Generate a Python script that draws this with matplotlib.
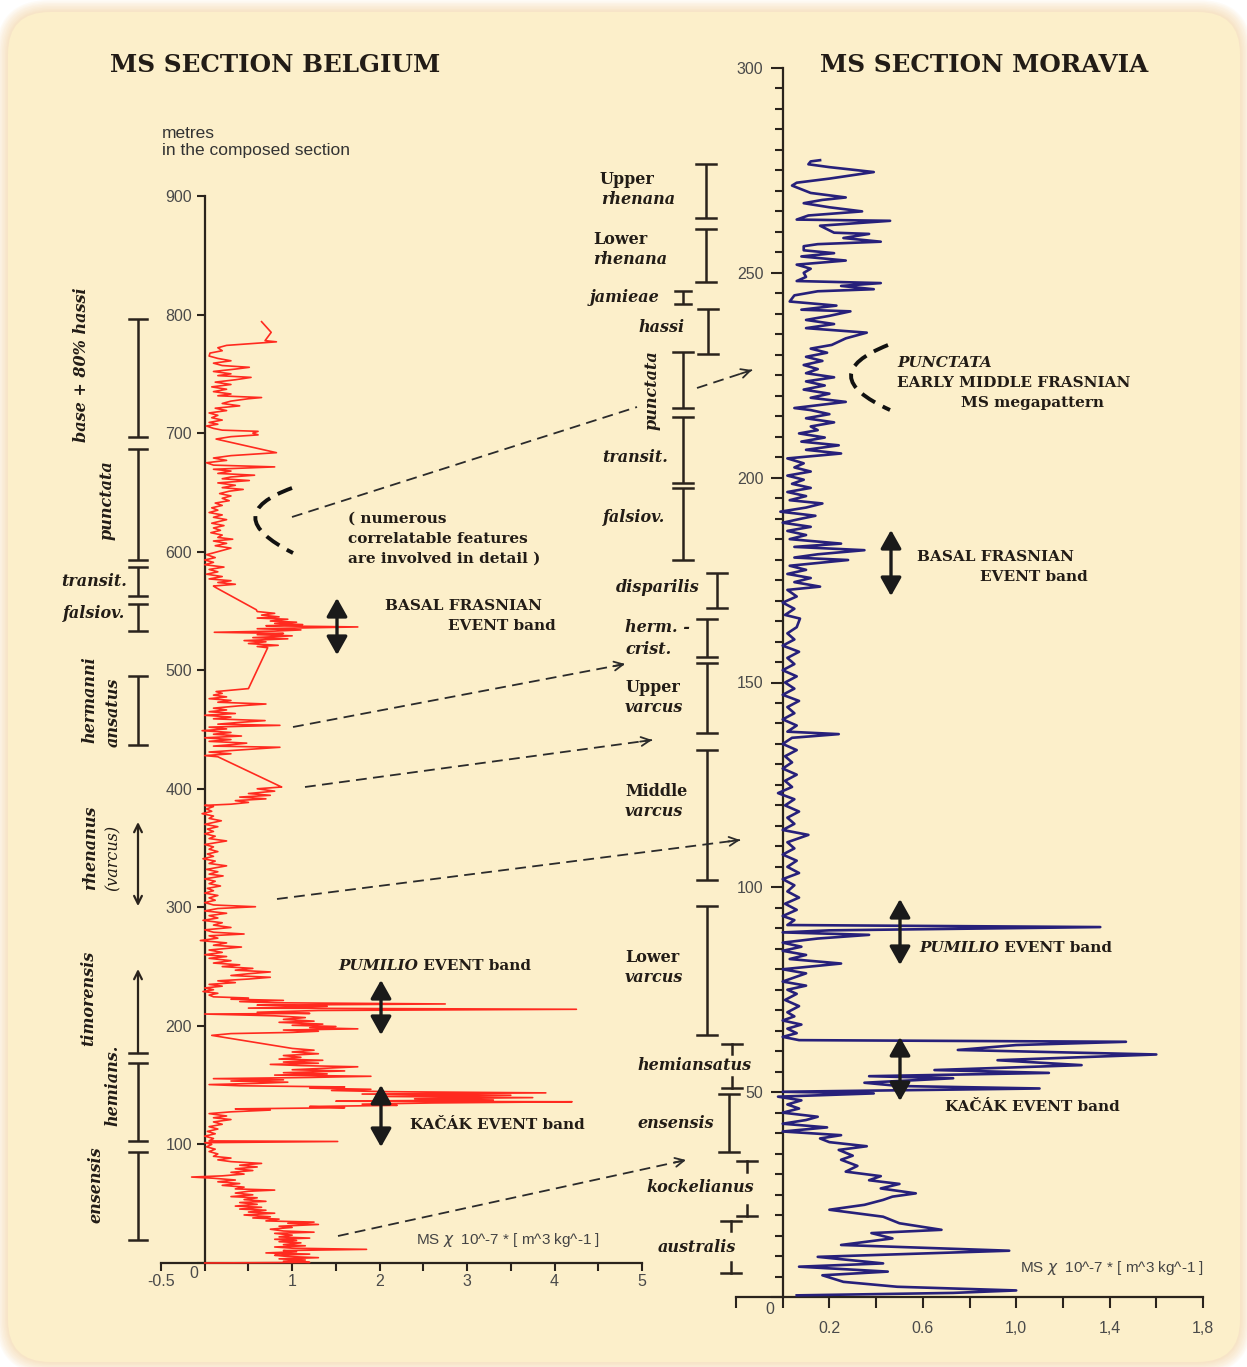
import numpy as np
import matplotlib.pyplot as plt
import matplotlib.transforms as mtransforms
from matplotlib.patches import FancyBboxPatch, FancyArrowPatch, PathPatch
from matplotlib.path import Path

# ---------------- data: Belgium (depth in m, MS value) ----------------
red_depth = [0, 0.5, 1.5, 2.5, 3.5, 4.5, 5.5, 6.5, 7.5, 8.5, 9.5, 10.5, 11.5, 12.5, 13.5, 14.5, 15.5, 17, 18, 19,
             20, 21, 22, 23.5, 25, 26, 27, 28.5, 30, 31, 32.5, 33.5, 34.5, 35.5, 37, 38, 39, 40.5, 42, 43,
             44.5, 45.5, 47, 48, 49.5, 51, 52, 53.5, 55, 56, 57.5, 59, 60.5, 61.5, 62.5, 64, 65.5, 67, 68.5, 70,
             71.5, 72.5, 73.5, 75, 76.5, 78, 79.5, 81, 82.5, 84, 85.5, 87, 88.5, 90, 92, 94, 96, 98, 100, 101.5,
             102.5, 103, 105, 107, 109, 111, 113, 115, 117, 119, 121, 122.5, 124, 126, 127.5, 129, 130, 131, 132, 133,
             134, 135, 136, 136.5, 137.5, 138.5, 139.5, 140.5, 141.5, 142.5, 143.5, 144.5, 145.5, 146.5, 147.5, 148.5, 149.5, 150.5, 151.5, 152.5,
             153.5, 154.5, 155.5, 156.5, 157.5, 158.5, 159.5, 160.5, 162, 163, 164.5, 165.5, 166.5, 167.5, 168.5, 169.5, 171, 172, 173.5, 175,
             176.5, 178, 179.5, 181, 192, 193.5, 194.5, 195.5, 196.5, 197.5, 198.5, 199.5, 200.5, 201.5, 203, 204, 205.5, 207, 208.5, 210,
             210.5, 211.5, 213, 214, 215, 216.5, 217.5, 218.5, 219.5, 220.5, 221.5, 222.5, 223.5, 224.5, 226, 227.5, 229, 230.5, 232, 233.5,
             235, 236.5, 238, 239.5, 241, 242.5, 244, 245.5, 247, 248.5, 250, 251.5, 253, 255, 257, 258.5, 260, 262, 264, 266.5,
             268, 270, 272, 274, 276, 277.5, 279, 281, 283, 285, 287, 289, 291, 293, 295, 297, 299, 300.5, 302, 304,
             306, 308, 310, 312, 314, 316, 318, 320, 322, 324, 326.5, 328, 330, 332, 335, 337, 339, 341, 343, 345,
             347, 349, 351, 353, 356, 358, 360, 362, 364, 366, 368, 370, 373, 375, 377, 379, 381, 383, 385, 386,
             387, 388.5, 390, 391.5, 393, 394.5, 396, 398, 400, 401.5, 402.5, 427, 428, 429.5, 431, 433, 435, 436, 437.5, 438.5,
             440, 441.5, 443, 444.5, 446, 447.5, 449, 450.5, 452, 453.5, 454.5, 456, 457.5, 459, 460.5, 462, 463.5, 465, 466.5, 468,
             470, 471.5, 473, 474.5, 476, 477.5, 479, 480.5, 482, 484.5, 519, 520, 521, 522.5, 524, 525, 526.5, 527.5, 529, 530,
             531, 532, 533, 534, 535, 536.5, 537.5, 538.5, 539.5, 540.5, 541.5, 543, 544, 545, 546.5, 548, 549.5, 551, 570, 571,
             572.5, 574, 575.5, 577, 579, 581, 583, 585, 587, 589, 591, 593, 595, 597.5, 599, 601, 603, 605, 607, 609,
             610.5, 612, 614, 616, 618, 620, 622, 624, 627, 629, 631, 633, 635, 637, 639, 641, 643, 645, 647, 649,
             651, 652.5, 654, 656, 658, 660, 661.5, 663, 664.5, 666, 668, 669.5, 671.5, 673, 675, 677, 679, 681, 683.5, 695,
             697, 698.5, 700, 701.5, 702.5, 704, 706, 707.5, 709, 711, 713, 715, 717, 719, 721, 723, 725, 727, 729, 730,
             731.5, 733, 735, 737, 739, 741, 743, 745, 747, 748.5, 750, 752, 754, 755.5, 757, 759, 761, 763, 765, 767.5,
             769.5, 772, 774, 777, 778, 785, 794]
red_ms = [0.0, 1.2, 0.9, 1.15, 0.85, 1.3, 0.95, 0.8, 1.2, 0.7, 1.05, 0.9, 1.85, 1.0, 0.8, 1.15, 0.9, 1.1, 0.85, 1.05,
          0.8, 1.2, 0.85, 1.0, 0.8, 1.25, 0.9, 0.75, 1.0, 0.85, 1.3, 0.95, 1.25, 0.7, 0.85, 0.55, 0.75, 0.45, 0.8, 0.5,
          0.7, 0.4, 0.65, 0.35, 0.6, 0.4, 0.7, 0.45, 0.6, 0.3, 0.55, 0.35, 0.5, 0.8, 0.35, 0.45, 0.2, 0.4, 0.15, 0.35,
          0.1, -0.15, 0.2, 0.45, 0.3, 0.55, 0.35, 0.6, 0.4, 0.65, 0.3, 0.15, 0.3, 0.1, 0.15, 0.05, 0.12, 0.02, 0.08, 0.0,
          1.52, 0.05, 0.1, 0.0, 0.12, 0.03, 0.15, 0.05, 0.2, 0.1, 0.3, 0.1, 0.25, 0.05, 0.3, 0.75, 0.35, 1.6, 1.2, 2.2,
          1.8, 2.6, 4.2, 1.5, 3.3, 2.4, 3.75, 2.0, 3.5, 1.8, 3.9, 2.1, 1.45, 1.9, 1.2, 1.6, 0.4, 0.05, 0.6, 0.95,
          0.3, 0.9, 0.1, 1.2, 1.9, 0.8, 1.4, 0.9, 1.6, 1.0, 1.45, 1.75, 1.1, 0.75, 1.3, 0.9, 1.35, 0.85, 1.1, 0.9,
          1.3, 1.0, 1.25, 1.0, 0.08, 0.3, 1.0, 1.3, 0.9, 1.75, 1.2, 1.5, 1.0, 1.35, 0.85, 1.25, 0.9, 1.15, 0.8, 0.0,
          1.2, 0.6, 1.3, 4.25, 0.5, 1.4, 0.6, 2.75, 0.8, 0.4, 0.9, 0.3, 0.5, 0.1, 0.05, 0.15, -0.02, 0.1, 0.0, 0.2,
          0.05, 0.35, 0.15, 0.5, 0.75, 0.3, 0.5, 0.75, 0.35, 0.55, 0.2, 0.4, 0.1, 0.3, 0.05, 0.25, 0.0, 0.2, 0.05, 0.42,
          0.1, 0.25, -0.05, 0.15, 0.05, 0.45, 0.1, 0.0, 0.3, 0.1, 0.2, -0.02, 0.15, 0.05, 0.25, 0.0, 0.15, 0.58, 0.1, 0.0,
          0.12, 0.05, 0.15, 0.0, 0.1, 0.03, 0.18, 0.05, 0.12, 0.0, 0.21, 0.05, 0.15, 0.02, 0.25, 0.05, 0.12, -0.02, 0.1, 0.03,
          0.15, 0.05, 0.1, 0.0, 0.25, 0.05, 0.12, 0.0, 0.1, 0.03, 0.15, 0.0, 0.19, 0.05, 0.1, -0.03, 0.08, 0.02, 0.1, 0.0,
          0.3, 0.5, 0.35, 0.7, 0.4, 0.75, 0.5, 0.8, 0.6, 0.88, 0.85, 0.15, 0.0, 0.3, 0.05, 0.45, 0.86, 0.1, 0.35, 0.48,
          0.05, 0.3, 0.0, 0.42, 0.1, 0.3, -0.03, 0.25, 0.05, 0.86, 0.15, 0.4, 0.69, 0.1, 0.3, 0.0, 0.35, 0.05, 0.25, 0.1,
          0.4, 0.7, 0.15, 0.3, 0.05, 0.25, 0.1, 0.2, 0.13, 0.5, 0.72, 0.6, 0.84, 0.5, 0.7, 0.45, 0.95, 0.55, 1.0, 0.6,
          0.9, 0.11, 0.8, 1.1, 0.6, 1.75, 0.7, 1.12, 0.8, 1.05, 0.75, 0.95, 0.6, 0.85, 0.65, 0.8, 0.6, 0.59, 0.12, 0.1,
          0.35, 0.15, 0.3, 0.05, 0.2, 0.02, 0.15, 0.05, 0.22, 0.0, 0.1, 0.0, 0.12, 0.02, 0.1, 0.2, 0.3, 0.12, 0.25, 0.1,
          0.32, 0.15, 0.2, 0.07, 0.18, 0.1, 0.22, 0.08, 0.25, 0.1, 0.2, 0.05, 0.15, 0.08, 0.2, 0.12, 0.28, 0.2, 0.3, 0.17,
          0.28, 0.44, 0.2, 0.35, 0.15, 0.51, 0.2, 0.3, 0.57, 0.15, 0.3, 0.1, 0.8, 0.1, 0.02, 0.25, 0.1, 0.3, 0.82, 0.13,
          0.3, 0.61, 0.55, 0.61, 0.2, 0.1, 0.02, 0.15, 0.05, 0.2, 0.08, 0.15, 0.05, 0.25, 0.12, 0.4, 0.2, 0.3, 0.5, 0.65,
          0.15, 0.3, 0.1, 0.25, 0.08, 0.3, 0.12, 0.35, 0.53, 0.15, 0.3, 0.1, 0.35, 0.51, 0.2, 0.1, 0.3, 0.15, 0.05, 0.06,
          0.2, 0.15, 0.25, 0.82, 0.69, 0.76, 0.65]

# ---------------- data: Moravia ----------------
blue_depth = [0.4, 1.0, 1.6, 2.5, 3.7, 5.3, 6.2, 7.4, 8.2, 9.8, 11.3, 12.7, 14.3, 15.6, 16.4, 18, 19.6, 21.3, 22.5, 23.7,
              24.5, 25.3, 26.5, 27.6, 28.5, 29.5, 30.6, 32, 33.5, 34.5, 35.9, 36.8, 37.8, 38.7, 39.5, 40.4, 41.4, 42.3, 43.2, 44,
              45, 46, 47, 48, 48.9, 49.7, 50.1, 50.9, 51.5, 52.3, 53.4, 53.9, 54.7, 55.4, 56.6, 57.8, 59.2, 60.3, 61.5, 62.3,
              62.7, 63.5, 64.4, 65.5, 66.5, 67.5, 68.5, 69.5, 71, 72.5, 74, 75, 76, 77, 78, 79, 80, 81.4, 82.5, 83.5,
              84.5, 85.5, 86.5, 87.5, 88.4, 89, 89.5, 90.3, 90.8, 92, 93, 94.5, 96, 97.5, 99, 100.5, 102, 103.5, 105, 106.5,
              108, 109.5, 111, 112.8, 114, 115.5, 117, 118.5, 120, 121.5, 123, 124.5, 126, 127.5, 129, 130.5, 132, 133.5, 135, 136.5,
              137.4, 138, 139.5, 141, 142.5, 144, 145.5, 147, 148.5, 150, 151.5, 153, 154.5, 156, 157.5, 159, 160.5, 162, 163.5, 165.6,
              166.5, 168, 169.5, 171, 172.6, 173.4, 174.5, 175.5, 176.5, 177.5, 178.5, 179.9, 180.5, 181.3, 182.3, 183.1, 183.9, 185, 186, 187,
              188, 189, 190, 190.7, 191.7, 192.7, 193.7, 194.5, 195.5, 196.5, 197.5, 198.5, 199.5, 200.5, 201.5, 202.5, 203.5, 204.7, 205.9, 206.8,
              207.9, 208.8, 209.8, 210.8, 211.6, 212.5, 213.5, 214.5, 215.5, 216.5, 217, 218.5, 219.5, 220.5, 221.5, 222.5, 223.5, 224.5, 225.5, 226.5,
              227.5, 228.5, 229.5, 230.5, 231.5, 232.4, 234, 235.4, 236.5, 237.5, 238.5, 239.5, 240.6, 241, 242, 243, 244.5, 245.5, 246, 246.8,
              247.5, 248, 249, 250, 251, 252, 253, 254, 254.8, 255.5, 256.5, 257, 257.6, 258.5, 259.5, 259.8, 261.5, 262.7, 263, 264,
              265, 266, 267, 267.8, 268.4, 269.5, 271.3, 272, 273, 274.6, 275.5, 275.8, 276.5, 277.2, 277.5]
blue_ms = [0.06, 0.73, 1.0, 0.49, 0.26, 0.17, 0.45, 0.07, 0.43, 0.15, 0.97, 0.25, 0.47, 0.38, 0.68, 0.5, 0.43, 0.2, 0.35, 0.43,
           0.47, 0.57, 0.42, 0.5, 0.37, 0.42, 0.27, 0.32, 0.25, 0.3, 0.24, 0.36, 0.2, 0.16, 0.25, 0.0, 0.19, 0.0, 0.1, 0.15,
           0.0, 0.07, 0.02, 0.08, -0.02, 0.39, 0.0, 1.1, 0.5, 0.35, 0.73, 0.37, 1.14, 0.65, 1.28, 0.92, 1.6, 0.75, 1.0, 1.47,
           0.07, 0.0, 0.06, 0.02, 0.08, 0.0, 0.05, 0.02, 0.07, 0.01, 0.06, 0.02, 0.1, 0.0, 0.05, 0.1, 0.0, 0.25, 0.03, 0.1,
           0.0, 0.08, 0.0, 0.15, 0.37, 0.0, 0.2, 1.36, 0.02, 0.05, 0.0, 0.06, 0.01, 0.07, 0.02, 0.05, 0.0, 0.07, 0.02, 0.06,
           0.0, 0.05, 0.02, 0.11, 0.0, 0.05, 0.02, 0.07, 0.01, 0.05, -0.02, 0.04, 0.01, 0.06, 0.0, 0.04, 0.01, 0.06, 0.0, 0.04,
           0.24, 0.02, 0.06, 0.0, 0.05, 0.02, 0.07, 0.0, 0.05, 0.01, 0.06, 0.0, 0.05, 0.02, 0.07, 0.0, 0.05, 0.02, 0.06, 0.074,
           0.01, 0.05, 0.0, 0.06, 0.02, 0.16, 0.05, 0.12, 0.02, 0.1, 0.03, 0.28, 0.05, 0.15, 0.35, 0.05, 0.25, 0.03, 0.1, 0.02,
           0.12, 0.0, 0.08, 0.14, -0.01, 0.1, 0.17, 0.03, 0.1, 0.02, 0.12, 0.04, 0.09, 0.02, 0.12, 0.05, 0.09, 0.02, 0.25, 0.1,
           0.24, 0.08, 0.18, 0.07, 0.15, 0.12, 0.22, 0.1, 0.2, 0.12, 0.05, 0.27, 0.12, 0.2, 0.09, 0.18, 0.1, 0.22, 0.1, 0.15,
           0.09, 0.17, 0.1, 0.19, 0.12, 0.21, 0.27, 0.36, 0.1, 0.22, 0.1, 0.2, 0.29, 0.08, 0.23, 0.03, 0.05, 0.15, 0.39, 0.25,
           0.42, 0.06, 0.1, 0.09, 0.12, 0.06, 0.27, 0.08, 0.22, 0.09, 0.09, 0.15, 0.42, 0.26, 0.37, 0.22, 0.16, 0.46, 0.06, 0.11,
           0.34, 0.2, 0.09, 0.17, 0.27, 0.12, 0.04, 0.06, 0.2, 0.39, 0.25, 0.2, 0.11, 0.12, 0.16]

# axis ticks / labels
left_xticks = [-0.5, 0, 0.5, 1, 1.5, 2, 2.5, 3, 3.5, 4, 4.5, 5]
left_xlabels = ['-0.5', '', '', '1', '', '2', '', '3', '', '4', '', '5']
left_yticks = [0, 100, 200, 300, 400, 500, 600, 700, 800, 900]
left_ylabels = ['', '100', '200', '300', '400', '500', '600', '700', '800', '900']
right_xticks = [-0.2, 0, 0.2, 0.4, 0.6, 0.8, 1.0, 1.2, 1.4, 1.6, 1.8]
right_xlabels = ['', '', '0.2', '', '0.6', '', '1,0', '', '1,4', '', '1,8']
right_yticks = [0, 50, 100, 150, 200, 250, 300]
right_ylabels = ['', '50', '100', '150', '200', '250', '300']

# biostratigraphic zones (bottom, top in metres)
left_zones = [('base80', 697, 796), ('punctata', 593, 687), ('transit', 563, 587), ('falsiov', 533, 556),
              ('hermanni', 437, 495), ('hemians', 103, 169), ('ensensis', 19, 94)]
right_zones = [('Urhen', 263.3, 276.5), ('Lrhen', 247.7, 260.7), ('jamieae', 242.4, 245.5), ('hassi', 230.2, 241.1),
               ('punctata', 216.9, 230.7), ('transit', 198.7, 214.9), ('falsiov', 179.9, 197.5),
               ('disparilis', 168.2, 176.8), ('hermcrist', 156.2, 165.6), ('Uvarc', 137.7, 154.7),
               ('Mvarc', 101.8, 133.5), ('Lvarc', 63.9, 95.4), ('ensensis', 35.4, 49.5)]
right_open_zones = [('hemiansatus', 51.1, 61.8), ('kockelianus', 19.8, 33.2), ('australis', 5.9, 18.6)]

W, H = 1247, 1367
INK = '#2a231c'
SERIF = 'DejaVu Serif'
SANS = 'Liberation Sans'

fig = plt.figure(figsize=(W / 100, H / 100), dpi=100)
fig.patch.set_facecolor('white')

# background panel
bg = fig.add_axes([0, 0, 1, 1])
bg.set_xlim(0, W)
bg.set_ylim(H, 0)
bg.axis('off')
for k in range(8, 0, -1):
    bg.add_patch(FancyBboxPatch((8 - k * 1.5, 12 - k * 1.5), 1232 + k * 3, 1350 + k * 3,
                                boxstyle='round,pad=0,rounding_size=%d' % (42 + k * 1.5),
                                fc='#f6c98a', ec='none', alpha=0.07))
bg.add_patch(FancyBboxPatch((8, 12), 1232, 1350, boxstyle='round,pad=0,rounding_size=42',
                            fc='#fcefca', ec='none'))

# ---------------- left axes (Belgium) ----------------
axL = fig.add_axes([161 / W, 1 - 1263 / H, 481 / W, 1067 / H])
axL.patch.set_alpha(0)
axL.set_xlim(-0.5, 5)
axL.set_ylim(0, 900)
axL.plot(red_ms, red_depth, color='#ff2a1f', lw=1.2, zorder=3, clip_on=False)
for s in ['top', 'right']:
    axL.spines[s].set_visible(False)
axL.spines['left'].set_position(('data', 0))
for s in ['left', 'bottom']:
    axL.spines[s].set_color(INK)
    axL.spines[s].set_linewidth(1.6)
axL.set_xticks(left_xticks)
axL.set_xticklabels(left_xlabels)
axL.set_yticks(left_yticks)
axL.set_yticklabels(left_ylabels)
axL.tick_params(direction='out', length=6, width=1.5, color=INK, labelsize=11.5, labelcolor='#4a4a4a')
axL.tick_params(axis='x', pad=2)
axL.tick_params(axis='y', pad=3)
for lab in axL.get_xticklabels() + axL.get_yticklabels():
    lab.set_fontfamily(SANS)

# ---------------- right axes (Moravia) ----------------
axR = fig.add_axes([736 / W, 1 - 1297 / H, 467 / W, 1229 / H])
axR.patch.set_alpha(0)
axR.set_xlim(-0.2, 1.8)
axR.set_ylim(0, 300)
axR.plot(blue_ms, blue_depth, color='#27207a', lw=1.9, zorder=3, clip_on=False)
for s in ['top', 'right']:
    axR.spines[s].set_visible(False)
axR.spines['left'].set_position(('data', 0))
for s in ['left', 'bottom']:
    axR.spines[s].set_color(INK)
    axR.spines[s].set_linewidth(1.6)
axR.set_xticks(right_xticks)
axR.set_xticklabels(right_xlabels)
axR.set_yticks(right_yticks)
axR.set_yticklabels(right_ylabels)
axR.set_yticks(np.arange(0, 301, 5), minor=True)
axR.tick_params(direction='out', length=9, width=1.5, color=INK, labelsize=11.5, labelcolor='#4a4a4a')
axR.tick_params(axis='x', pad=9, length=8)
axR.tick_params(axis='y', pad=5)
axR.tick_params(axis='y', which='minor', length=6, width=1.5, color=INK)
for lab in axR.get_xticklabels() + axR.get_yticklabels():
    lab.set_fontfamily(SANS)

# ---------------- overlay for annotations (pixel coords) ----------------
ov = fig.add_axes([0, 0, 1, 1])
ov.set_xlim(0, W)
ov.set_ylim(H, 0)
ov.axis('off')
ov.patch.set_alpha(0)

tL = mtransforms.blended_transform_factory(ov.transData, axL.transData)
tR = mtransforms.blended_transform_factory(ov.transData, axR.transData)


def zbar(tr, x, lo, hi, half=9, lw=1.8):
    ov.plot([x, x], [lo, hi], color=INK, lw=lw, transform=tr, solid_capstyle='butt')
    for yy in (lo, hi):
        ov.plot([x - half, x + half], [yy, yy], color=INK, lw=lw, transform=tr)


def tbar(tr, x, lo, hi, stub, half=10, lw=1.8):
    # capped ends only, label sits in between
    ov.plot([x, x], [hi, hi - stub], color=INK, lw=lw, transform=tr)
    ov.plot([x, x], [lo, lo + stub], color=INK, lw=lw, transform=tr)
    for yy in (lo, hi):
        ov.plot([x - half, x + half], [yy, yy], color=INK, lw=lw, transform=tr)


left_bar_x = 138
for name, lo, hi in left_zones:
    zbar(tL, left_bar_x, lo, hi)

right_bar_x = {'Urhen': 706, 'Lrhen': 706, 'jamieae': 683, 'hassi': 708, 'punctata': 683, 'transit': 683,
               'falsiov': 683, 'disparilis': 717, 'hermcrist': 707, 'Uvarc': 707, 'Mvarc': 707, 'Lvarc': 707,
               'ensensis': 729}
for name, lo, hi in right_zones:
    zbar(tR, right_bar_x[name], lo, hi, half=10 if name != 'jamieae' else 8)
open_x = {'hemiansatus': 732, 'kockelianus': 747, 'australis': 731}
for name, lo, hi in right_open_zones:
    tbar(tR, open_x[name], lo, hi, 2.6)

# zone arrows on the Belgian column
ov.add_patch(FancyArrowPatch((left_bar_x, 301), (left_bar_x, 372), transform=tL, arrowstyle='<->',
                             mutation_scale=14, lw=1.6, color=INK, shrinkA=0, shrinkB=0))
ov.add_patch(FancyArrowPatch((left_bar_x, 177), (left_bar_x, 248), transform=tL, arrowstyle='->',
                             mutation_scale=14, lw=1.6, color=INK, shrinkA=0, shrinkB=0))
ov.plot([left_bar_x - 9, left_bar_x + 9], [177, 177], color=INK, lw=1.8, transform=tL)

# ---------------- texts ----------------
def bt(x, y, s, size=11.5, italic=True, bold=True, ha='left', rot=0, **kw):
    return ov.text(x, y, s, fontsize=size, family=SERIF, fontweight='bold' if bold else 'normal',
                   fontstyle='italic' if italic else 'normal', ha=ha, va='center', rotation=rot,
                   color='#221c16', **kw)


bt(110, 65, 'MS SECTION BELGIUM', size=17.7, italic=False)
bt(820, 65, 'MS SECTION MORAVIA', size=17.7, italic=False)
ov.text(162, 133, 'metres', fontsize=12.5, family=SANS, color='#333333', va='center')
ov.text(162, 151, 'in the composed section', fontsize=12.5, family=SANS, color='#333333', va='center')
ov.text(194, 1274, '0', fontsize=11.5, family=SANS, color='#4a4a4a', ha='center', va='center')
ov.text(770, 1310, '0', fontsize=11.5, family=SANS, color='#4a4a4a', ha='center', va='center')
ov.text(416, 1240, r'MS $\chi$  10^-7 * [ m^3 kg^-1 ]', fontsize=11, family=SANS, color='#444444', va='center')
ov.text(1020, 1268, r'MS $\chi$  10^-7 * [ m^3 kg^-1 ]', fontsize=11, family=SANS, color='#444444', va='center')

# left column labels
bt(81, 365, 'base + 80% hassi', rot=90, ha='center')
bt(107, 500, 'punctata', rot=90, ha='center')
bt(127, 581, 'transit.', ha='right')
bt(125, 614, 'falsiov.', ha='right')
bt(90, 700, 'hermanni', rot=90, ha='center')
bt(113, 712, 'ansatus', rot=90, ha='center')
bt(91, 848, 'rhenanus', rot=90, ha='center')
bt(113, 858, '(varcus)', rot=90, ha='center', bold=False)
bt(89, 998, 'timorensis', rot=90, ha='center')
bt(113, 1085, 'hemians.', rot=90, ha='center')
bt(96, 1185, 'ensensis', rot=90, ha='center')

# right column labels
bt(600, 180, 'Upper', italic=False)
bt(601, 199, 'rhenana')
bt(593, 240, 'Lower', italic=False)
bt(593, 260, 'rhenana')
bt(590, 297, 'jamieae')
bt(638, 328, 'hassi')
bt(652, 390, 'punctata', rot=90, ha='center')
bt(602, 458, 'transit.')
bt(603, 517, 'falsiov.')
bt(616, 588, 'disparilis')
bt(625, 628, 'herm. -')
bt(625, 649, 'crist.')
bt(625, 688, 'Upper', italic=False)
bt(625, 708, 'varcus')
bt(625, 791, 'Middle', italic=False)
bt(625, 811, 'varcus')
bt(625, 958, 'Lower', italic=False)
bt(625, 978, 'varcus')
bt(695, 1065, 'hemiansatus', ha='center')
bt(676, 1124, 'ensensis', ha='center')
bt(700, 1187, 'kockelianus', ha='center')
bt(697, 1248, 'australis', ha='center')

# event labels
EV = 11
bt(348, 519, '( numerous', size=EV, italic=False)
bt(348, 539, 'correlatable features', size=EV, italic=False)
bt(348, 559, 'are involved in detail )', size=EV, italic=False)
bt(385, 606, 'BASAL FRASNIAN', size=EV, italic=False)
bt(448, 626, 'EVENT band', size=EV, italic=False)
p1 = bt(338, 966, 'PUMILIO', size=EV)
ov.annotate(' EVENT band', xy=(1, 0), xycoords=p1, va='bottom', ha='left', fontsize=EV, family=SERIF,
            fontweight='bold', color='#221c16')
bt(410, 1125, 'KAČÁK EVENT band', size=EV, italic=False)
bt(897, 363, 'PUNCTATA', size=EV)
bt(897, 383, 'EARLY MIDDLE FRASNIAN', size=EV, italic=False)
bt(961, 403, 'MS megapattern', size=EV, italic=False)
bt(917, 557, 'BASAL FRASNIAN', size=EV, italic=False)
bt(980, 577, 'EVENT band', size=EV, italic=False)
p2 = bt(919, 948, 'PUMILIO', size=EV)
ov.annotate(' EVENT band', xy=(1, 0), xycoords=p2, va='bottom', ha='left', fontsize=EV, family=SERIF,
            fontweight='bold', color='#221c16')
bt(945, 1107, 'KAČÁK EVENT band', size=EV, italic=False)

# event double arrows
for x, y0, y1 in [(337, 598, 655), (381, 980, 1035), (381, 1085, 1147),
                  (891, 530, 596), (900, 899, 965), (900, 1037, 1101)]:
    ov.add_patch(FancyArrowPatch((x, y0), (x, y1), arrowstyle='<|-|>,head_length=0.8,head_width=0.45',
                                 mutation_scale=14, lw=2.4, color='#1a1a1a', shrinkA=0, shrinkB=0))

# dashed correlation lines
DASH = (0, (6, 3.5))
for (x0, y0), (x1, y1), head in [((292, 517), (637, 407), False), ((697, 388), (752, 370), True),
                                 ((293, 727), (625, 664), True), ((305, 787), (652, 740), True),
                                 ((277, 899), (740, 840), True), ((338, 1236), (686, 1160), True)]:
    ov.plot([x0, x1], [y0, y1], color='#2b2b2b', lw=1.3, ls=DASH)
    if head:
        d = np.hypot(x1 - x0, y1 - y0)
        ov.annotate('', xy=(x1, y1), xytext=(x1 - (x1 - x0) / d * 12, y1 - (y1 - y0) / d * 12),
                    arrowprops=dict(arrowstyle='->', lw=1.3, color='#2b2b2b', mutation_scale=16,
                                    shrinkA=0, shrinkB=0))

# dashed megapattern brackets
for p0, c, p2_ in [((292, 488), (218, 515), (293, 553)), ((888, 345), (813, 375), (890, 410))]:
    path = Path([p0, c, p2_], [Path.MOVETO, Path.CURVE3, Path.CURVE3])
    ov.add_patch(PathPatch(path, fc='none', ec='#111111', lw=2.8, ls=(0, (4, 2.2))))

fig.savefig('out.png', dpi=100)
